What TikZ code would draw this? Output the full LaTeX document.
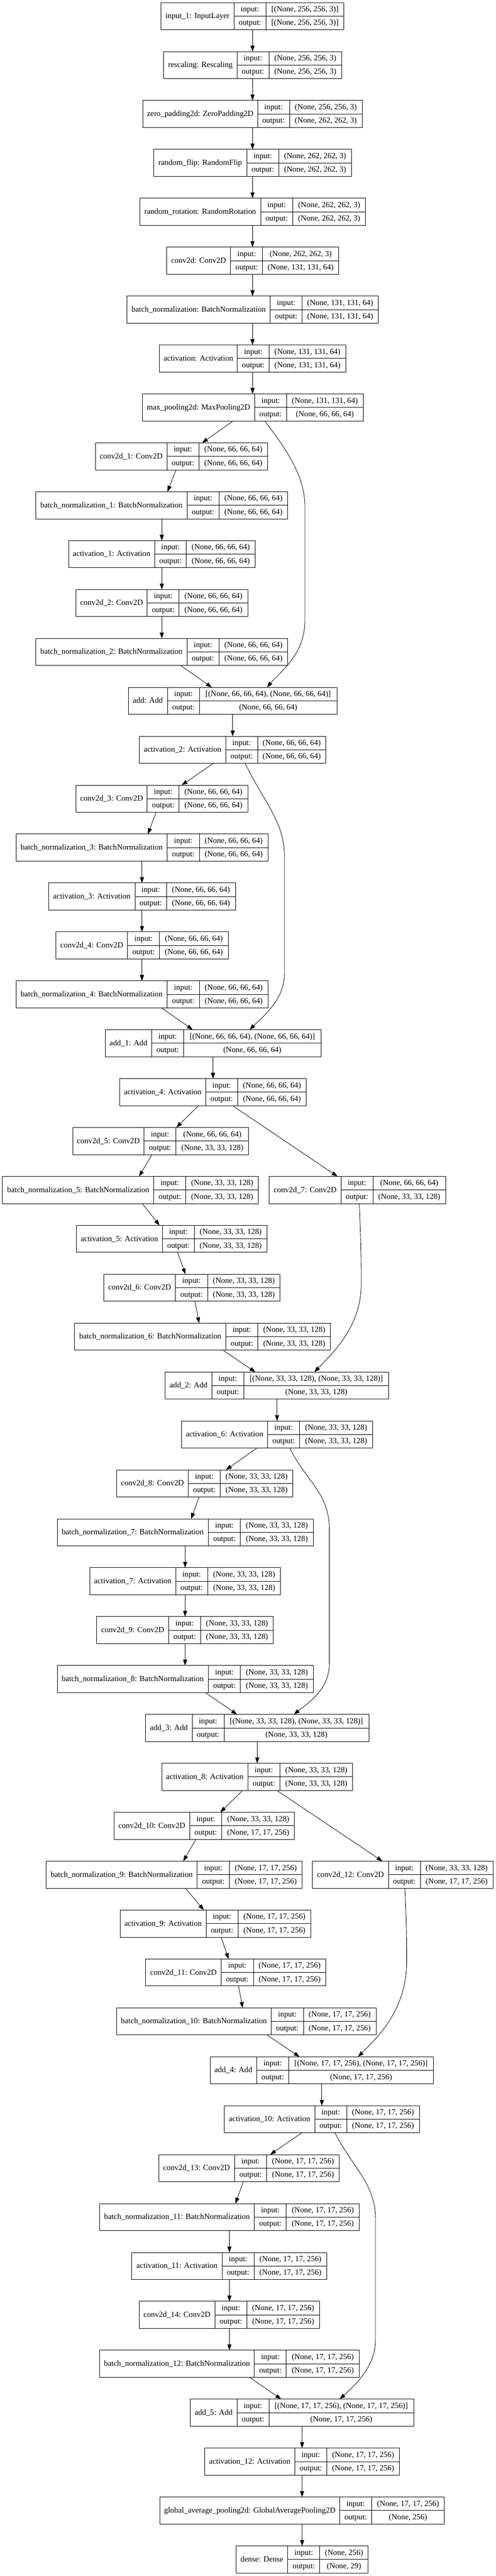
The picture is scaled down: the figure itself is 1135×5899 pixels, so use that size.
\documentclass[tikz,border=0pt]{standalone}
\usepackage{fontspec}
\setmainfont{Liberation Serif}
\usetikzlibrary{arrows.meta}
\tikzset{
  box/.style={draw, line width=0.8pt, inner sep=0pt, outer sep=0pt, minimum height=46.5pt, anchor=north west},
  sepline/.style={line width=0.8pt},
  txt/.style={inner sep=0pt, font=\fontsize{13.6}{16}\selectfont, text height=10.3pt, text depth=2.6pt},
  edge/.style={line width=0.75pt, -{Triangle[length=10pt,width=7pt]}},
}
\newcommand\shA{(None, 66, 66, 64)}
\newcommand\shB{(None, 33, 33, 128)}
\newcommand\shC{(None, 17, 17, 256)}
\newcommand\shD{(None, 131, 131, 64)}
\newcommand\shE{(None, 262, 262, 3)}
\newcommand\layer[9]{%
  \pgfmathsetmacro\lyT{6+112*#2}%
  \pgfmathsetmacro\lyB{\lyT+62}%
  \pgfmathsetmacro\lyM{\lyT+31}%
  \pgfmathsetmacro\lyW{(#6-#3)*0.75}%
  \node[box, minimum width=\lyW pt] (#1) at (#3,\lyT) {};
  \draw[sepline] (#4,\lyT) -- (#4,\lyB) (#5,\lyT) -- (#5,\lyB) (#4,\lyM) -- (#6,\lyM);
  \node[txt] at ({(#3+#4)/2},\lyM) {#7};
  \node[txt] at ({(#4+#5)/2},\lyT+15.5) {input:};
  \node[txt] at ({(#4+#5)/2},\lyT+46.5) {output:};
  \node[txt] at ({(#5+#6)/2},\lyT+15.5) {#8};
  \node[txt] at ({(#5+#6)/2},\lyT+46.5) {#9};
}
\newcommand\edge[4]{\draw[edge] (#1.south -| #2,0) -- (#3.north -| #4,0);}
\begin{document}
\begin{tikzpicture}[x=0.75pt,y=-0.75pt]
\useasboundingbox (0,0) rectangle (1135,5899);
\layer{L0}{0}{369.2}{535.7}{609.5}{787.6}{input\_1: InputLayer}{[(None, 256, 256, 3)]}{[(None, 256, 256, 3)]}
\layer{L1}{1}{375}{542.9}{616}{782.5}{rescaling: Rescaling}{(None, 256, 256, 3)}{(None, 256, 256, 3)}
\layer{L2}{2}{327.2}{590}{663}{829.5}{zero\_padding2d: ZeroPadding2D}{(None, 256, 256, 3)}{\shE}
\layer{L3}{3}{351.8}{565.3}{638.4}{805}{random\_flip: RandomFlip}{\shE}{\shE}
\layer{L4}{4}{320}{597.2}{670.3}{837.5}{random\_rotation: RandomRotation}{\shE}{\shE}
\layer{L5}{5}{381.5}{528.4}{601.5}{776}{conv2d: Conv2D}{\shE}{\shD}
\layer{L6}{6}{291}{619}{692}{866.5}{batch\_normalization: BatchNormalization}{\shD}{\shD}
\layer{L7}{7}{365.5}{543.6}{616.7}{791.9}{activation: Activation}{\shD}{\shD}
\layer{L8}{8}{325.7}{583.4}{656.5}{831.7}{max\_pooling2d: MaxPooling2D}{\shD}{\shA}
\layer{L9}{9}{218.6}{382.2}{456}{613.1}{conv2d\_1: Conv2D}{\shA}{\shA}
\layer{L10}{10}{81.8}{428.5}{501.6}{659.4}{batch\_normalization\_1: BatchNormalization}{\shA}{\shA}
\layer{L11}{11}{157.1}{354}{427}{584.2}{activation\_1: Activation}{\shA}{\shA}
\layer{L12}{12}{173.7}{337.3}{410.4}{567.5}{conv2d\_2: Conv2D}{\shA}{\shA}
\layer{L13}{13}{81.8}{428.5}{501.6}{659.4}{batch\_normalization\_2: BatchNormalization}{\shA}{\shA}
\layer{L14}{14}{293.9}{383.6}{456.8}{771.6}{add: Add}{[(None, 66, 66, 64), (None, 66, 66, 64)]}{\shA}
\layer{L15}{15}{319.2}{516.8}{590}{746.3}{activation\_2: Activation}{\shA}{\shA}
\layer{L16}{16}{173.7}{337.3}{410.4}{567.5}{conv2d\_3: Conv2D}{\shA}{\shA}
\layer{L17}{17}{36.9}{382.9}{456.8}{613.8}{batch\_normalization\_3: BatchNormalization}{\shA}{\shA}
\layer{L18}{18}{111.5}{309.1}{381.5}{539.3}{activation\_3: Activation}{\shA}{\shA}
\layer{L19}{19}{128.1}{292.4}{365.5}{522.6}{conv2d\_4: Conv2D}{\shA}{\shA}
\layer{L20}{20}{36.9}{382.9}{456.8}{613.8}{batch\_normalization\_4: BatchNormalization}{\shA}{\shA}
\layer{L21}{21}{241}{347.5}{420.6}{735.4}{add\_1: Add}{[(None, 66, 66, 64), (None, 66, 66, 64)]}{\shA}
\layer{L22}{22}{274.3}{471.2}{544.3}{701.4}{activation\_4: Activation}{\shA}{\shA}
\layer{L23}{23}{166.5}{330.1}{403.2}{569.7}{conv2d\_5: Conv2D}{\shA}{\shB}
\layer{L24}{24}{5.8}{352.5}{425.6}{592.1}{batch\_normalization\_5: BatchNormalization}{\shB}{\shB}
\layer{L24b}{24}{616.7}{781}{854.2}{1020.6}{conv2d\_7: Conv2D}{\shA}{\shB}
\layer{L25}{25}{175.2}{372.1}{445.2}{611.7}{activation\_5: Activation}{\shB}{\shB}
\layer{L26}{26}{238.1}{401.7}{475.6}{641.3}{conv2d\_6: Conv2D}{\shB}{\shB}
\layer{L27}{27}{170.8}{517.6}{590.7}{757.2}{batch\_normalization\_6: BatchNormalization}{\shB}{\shB}
\layer{L28}{28}{378.6}{485}{558.8}{890.4}{add\_2: Add}{[(None, 33, 33, 128), (None, 33, 33, 128)]}{\shB}
\layer{L29}{29}{415.5}{613.1}{686.2}{853.4}{activation\_6: Activation}{\shB}{\shB}
\layer{L30}{30}{267.1}{431.4}{504.5}{671}{conv2d\_8: Conv2D}{\shB}{\shB}
\layer{L31}{31}{131}{477}{550.9}{717.3}{batch\_normalization\_7: BatchNormalization}{\shB}{\shB}
\layer{L32}{32}{205.6}{402.5}{475.6}{642.8}{activation\_7: Activation}{\shB}{\shB}
\layer{L33}{33}{221.5}{386.5}{459.6}{626.1}{conv2d\_9: Conv2D}{\shB}{\shB}
\layer{L34}{34}{131}{477}{550.9}{717.3}{batch\_normalization\_8: BatchNormalization}{\shB}{\shB}
\layer{L35}{35}{333.7}{440.1}{513.2}{844.7}{add\_3: Add}{[(None, 33, 33, 128), (None, 33, 33, 128)]}{\shB}
\layer{L36}{36}{370.6}{567.5}{641.3}{807.8}{activation\_8: Activation}{\shB}{\shB}
\layer{L37}{37}{261.3}{434.3}{508.1}{674.6}{conv2d\_10: Conv2D}{\shB}{\shC}
\layer{L38}{38}{105.7}{451.7}{525.5}{692}{batch\_normalization\_9: BatchNormalization}{\shC}{\shC}
\layer{L38b}{38}{715.9}{889.6}{962.7}{1129.2}{conv2d\_12: Conv2D}{\shB}{\shC}
\layer{L39}{39}{275.1}{472}{545.1}{712.3}{activation\_9: Activation}{\shC}{\shC}
\layer{L40}{40}{333.7}{506.7}{580.5}{746.3}{conv2d\_11: Conv2D}{\shC}{\shC}
\layer{L41}{41}{267.1}{621.1}{694.9}{861.4}{batch\_normalization\_10: BatchNormalization}{\shC}{\shC}
\layer{L42}{42}{481.4}{587.8}{661.6}{992.4}{add\_4: Add}{[(None, 17, 17, 256), (None, 17, 17, 256)]}{\shC}
\layer{L43}{43}{513.9}{721}{794.1}{960.5}{activation\_10: Activation}{\shC}{\shC}
\layer{L44}{44}{363.4}{537.1}{610.9}{777.4}{conv2d\_13: Conv2D}{\shC}{\shC}
\layer{L45}{45}{228}{582.7}{655.8}{823}{batch\_normalization\_11: BatchNormalization}{\shC}{\shC}
\layer{L46}{46}{301.8}{508.9}{582}{748.5}{activation\_11: Activation}{\shC}{\shC}
\layer{L47}{47}{318.5}{492.2}{565.3}{731.8}{conv2d\_14: Conv2D}{\shC}{\shC}
\layer{L48}{48}{228}{582.7}{655.8}{823}{batch\_normalization\_12: BatchNormalization}{\shC}{\shC}
\layer{L49}{49}{435.8}{542.9}{616}{947.5}{add\_5: Add}{[(None, 17, 17, 256), (None, 17, 17, 256)]}{\shC}
\layer{L50}{50}{469}{675.4}{748.5}{915}{activation\_12: Activation}{\shC}{\shC}
\layer{L51}{51}{366.3}{778.1}{851.3}{1017.7}{global\_average\_pooling2d: GlobalAveragePooling2D}{\shC}{(None, 256)}
\layer{L52}{52}{540.7}{659.4}{732.5}{843.3}{dense: Dense}{(None, 256)}{(None, 29)}
% straight connectors
\edge{L0}{578.4}{L1}{578.4}
\edge{L1}{578.4}{L2}{578.4}
\edge{L2}{578.4}{L3}{578.4}
\edge{L3}{578.4}{L4}{578.4}
\edge{L4}{578.4}{L5}{578.4}
\edge{L5}{578.4}{L6}{578.4}
\edge{L6}{578.4}{L7}{578.4}
\edge{L7}{578.4}{L8}{578.4}
\edge{L8}{534}{L9}{463}
\edge{L9}{403.2}{L10}{383.6}
\edge{L10}{370.6}{L11}{370.6}
\edge{L11}{370.6}{L12}{370.6}
\edge{L12}{370.6}{L13}{370.6}
\edge{L13}{414}{L14}{485}
\edge{L14}{533}{L15}{533}
\edge{L15}{488.6}{L16}{416.2}
\edge{L16}{357.6}{L17}{338.8}
\edge{L17}{325.2}{L18}{325.2}
\edge{L18}{325.2}{L19}{325.2}
\edge{L19}{325.2}{L20}{325.2}
\edge{L20}{369.9}{L21}{441.5}
\edge{L21}{488}{L22}{488}
\edge{L22}{454.6}{L23}{403.9}
\edge{L22}{532.8}{L24b}{773.1}
\edge{L23}{348.2}{L24}{318.5}
\edge{L24}{325.7}{L25}{365.5}
\edge{L25}{406.8}{L26}{424.9}
\edge{L26}{446.6}{L27}{456}
\edge{L27}{511}{L28}{584.9}
\edge{L28}{634.6}{L29}{634.6}
\edge{L29}{588.5}{L30}{517.6}
\edge{L30}{456}{L31}{437.9}
\edge{L31}{424}{L32}{424}
\edge{L32}{424}{L33}{424}
\edge{L33}{424}{L34}{424}
\edge{L34}{470.5}{L35}{542.9}
\edge{L35}{589.2}{L36}{589.2}
\edge{L36}{555.9}{L37}{504.5}
\edge{L36}{634.1}{L38b}{875.9}
\edge{L37}{448.8}{L38}{419.8}
\edge{L38}{424.9}{L39}{466.9}
\edge{L39}{506.7}{L40}{523.4}
\edge{L40}{546.5}{L41}{555.9}
\edge{L41}{611.7}{L42}{686.2}
\edge{L42}{737.2}{L43}{737.2}
\edge{L43}{691.3}{L44}{618.9}
\edge{L44}{557.4}{L45}{539.3}
\edge{L45}{525.5}{L46}{525.5}
\edge{L46}{525.5}{L47}{525.5}
\edge{L47}{525.5}{L48}{525.5}
\edge{L48}{571.8}{L49}{644.2}
\edge{L49}{692}{L50}{692}
\edge{L50}{692}{L51}{692}
\edge{L51}{692}{L52}{692}
% skip connectors
\draw[edge] (L8.south -| 606.6,0) .. controls (640,1010) and (698.5,1080) .. (698.5,1160) -- (698.5,1420) .. controls (698.5,1500) and (640,1540) .. (L14.north -| 611.7,0);
\draw[edge] (L15.south -| 561.7,0) .. controls (600,1830) and (651.5,1880) .. (651.5,1960) -- (651.5,2230) .. controls (651.5,2290) and (600,2330) .. (L21.north -| 571.8,0);
\draw[edge] (L24b.south -| 823,0) .. controls (826,2830) and (827.4,2870) .. (827.4,2940) .. controls (827.4,3040) and (760,3100) .. (L28.north -| 720.2,0);
\draw[edge] (L29.south -| 663.8,0) .. controls (700,3390) and (754.3,3420) .. (754.3,3500) -- (754.3,3810) .. controls (754.3,3870) and (705,3900) .. (L35.north -| 673.2,0);
\draw[edge] (L38b.south -| 927.3,0) .. controls (931,4400) and (931.6,4440) .. (931.6,4490) .. controls (931.6,4600) and (870,4660) .. (L42.north -| 820.1,0);
\draw[edge] (L43.south -| 767.3,0) .. controls (805,4960) and (860,5000) .. (860,5080) -- (860,5360) .. controls (860,5420) and (810,5465) .. (L49.north -| 778.1,0);
\end{tikzpicture}
\end{document}
